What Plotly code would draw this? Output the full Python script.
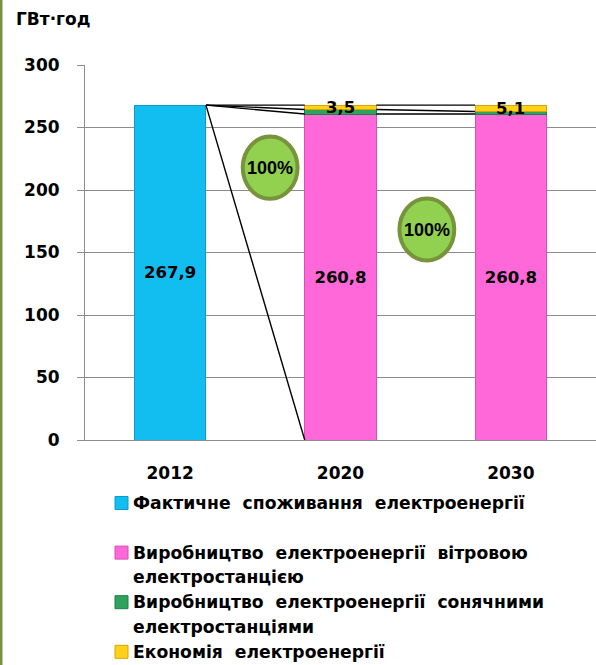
import plotly.graph_objects as go

# ---------------- data ----------------
years = ["2012", "2020", "2030"]
series_names = [
    "Фактичне споживання електроенергії",
    "Виробництво електроенергії вітровою електростанцією",
    "Виробництво електроенергії сонячними електростанціями",
    "Економія електроенергії",
]
actual_use = [267.9, 0.0, 0.0]
wind_gen = [0.0, 260.8, 260.8]
solar_gen = [0.0, 3.6, 2.0]
saving = [0.0, 3.5, 5.1]
y_ticks = [0, 50, 100, 150, 200, 250, 300]
unit_label = "ГВт·год"
circle_labels = ["100%", "100%"]
legend_lines = [
    ["Фактичне  споживання  електроенергії", " "],
    ["Виробництво  електроенергії  вітровою", "електростанцією"],
    ["Виробництво  електроенергії  сонячними", "електростанціями"],
    ["Економія  електроенергії"],
]

# ---------------- style ----------------
W, H = 596, 665
L, R, T, B = 85, 0, 65, 225
PW, PH = W - L - R, H - T - B
FONT = "DejaVu Sans"
colors = ["#12BDF0", "#FF68D8", "#2FA35E", "#FFD21A"]
edge_colors = ["#0A9CCB", "#D94DB5", "#1F7F45", "#D9A400"]
BAR_W = 0.42
GRID = "#8C8C8C"


def px_x(px):
    return (px - L) / PW


def px_y(py):
    return (H - B - py) / PH


def fmt(v):
    return f"{v:.1f}".replace(".", ",")


series = [actual_use, wind_gen, solar_gen, saving]
xs = list(range(len(years)))

fig = go.Figure()

# bars
for i, (name, vals) in enumerate(zip(series_names, series)):
    show_text = i in (0, 1)
    fig.add_trace(go.Bar(
        x=xs,
        y=[v if v > 0 else None for v in vals],
        name=name,
        width=BAR_W,
        marker=dict(color=colors[i], line=dict(color=edge_colors[i], width=1)),
        text=[fmt(v) if (show_text and v > 0) else "" for v in vals],
        textposition="inside" if show_text else "none",
        insidetextanchor="middle",
        textangle=0,
        constraintext="none",
        textfont=dict(family=FONT, size=16.5, color="black", weight="bold"),
        showlegend=False,
        hoverinfo="skip",
    ))

# series lines (connect stack tops between neighbouring bars)
cums = []
running = [0.0] * len(years)
for vals in series:
    running = [r + v for r, v in zip(running, vals)]
    cums.append(running[:])
for cum in cums:
    lx, ly = [], []
    for c in range(len(years) - 1):
        if cum[c] == 0 and cum[c + 1] == 0:
            continue
        lx += [c + BAR_W / 2, c + 1 - BAR_W / 2, None]
        ly += [cum[c], cum[c + 1], None]
    fig.add_trace(go.Scatter(x=lx, y=ly, mode="lines",
                             line=dict(color="black", width=1.4),
                             showlegend=False, hoverinfo="skip"))

annotations = []
# labels for the small top segments
for c in xs:
    if saving[c] > 0:
        base = cums[2][c]
        annotations.append(dict(
            x=c, y=base + saving[c] / 2, xref="x", yref="y",
            text=fmt(saving[c]), showarrow=False,
            font=dict(family=FONT, size=16.5, color="black", weight="bold"),
        ))

# green circles
circles = [
    dict(x0=0.426, x1=0.748, y0=193.0, y1=242.8),
    dict(x0=1.346, x1=1.668, y0=143.6, y1=193.2),
]
shapes = []
for lab, cpos in zip(circle_labels, circles):
    shapes.append(dict(type="circle", xref="x", yref="y", layer="above",
                       fillcolor="#92D050", line=dict(color="#77933C", width=4),
                       **cpos))
    annotations.append(dict(
        x=(cpos["x0"] + cpos["x1"]) / 2, y=(cpos["y0"] + cpos["y1"]) / 2,
        xref="x", yref="y", text=lab, showarrow=False,
        font=dict(family="Liberation Sans", size=18, color="black", weight="bold"),
    ))

# unit label
annotations.append(dict(
    x=px_x(14), y=px_y(19), xref="paper", yref="paper", xanchor="left",
    yanchor="middle", text=unit_label, showarrow=False,
    font=dict(family=FONT, size=17, color="black", weight="bold"),
))

# manual legend
row_y = 503
ROW = 24.8
for i, lines in enumerate(legend_lines):
    y_mid = row_y
    shapes.append(dict(type="rect", xref="paper", yref="paper",
                       x0=px_x(115), x1=px_x(128),
                       y0=px_y(y_mid - 6.5), y1=px_y(y_mid + 6.5),
                       fillcolor=colors[i], line=dict(color=edge_colors[i], width=1)))
    for j, ln in enumerate(lines):
        annotations.append(dict(
            x=px_x(131), y=px_y(row_y), xref="paper", yref="paper",
            xanchor="left", yanchor="middle", text=ln, showarrow=False,
            font=dict(family=FONT, size=17.2, color="black", weight="bold"),
        ))
        row_y += ROW
    if len(lines) == 1:
        row_y += ROW

# left olive border
shapes.append(dict(type="rect", xref="paper", yref="paper",
                   x0=px_x(0), x1=px_x(2.5), y0=px_y(H), y1=px_y(0),
                   fillcolor="#77933C", line=dict(width=0), layer="above"))

fig.update_layout(
    width=W, height=H,
    margin=dict(l=L, r=R, t=T, b=B),
    barmode="stack",
    paper_bgcolor="white", plot_bgcolor="white",
    showlegend=False,
    separators=", ",
    annotations=annotations,
    shapes=shapes,
    xaxis=dict(
        range=[-0.5, 2.5], tickvals=xs, ticktext=years,
        showgrid=False, zeroline=False, showline=True, linecolor=GRID,
        linewidth=1, ticks="", ticklabelstandoff=18,
        tickfont=dict(family=FONT, size=17, color="black", weight="bold"),
        fixedrange=True,
    ),
    yaxis=dict(
        range=[0, 300], tickvals=y_ticks,
        showgrid=True, gridcolor=GRID, gridwidth=1, zeroline=False,
        showline=True, linecolor=GRID, linewidth=1,
        ticks="outside", ticklen=7, tickcolor=GRID, ticklabelstandoff=14,
        tickfont=dict(family=FONT, size=17, color="black", weight="bold"),
        fixedrange=True,
    ),
)

fig.write_html("out.html")
